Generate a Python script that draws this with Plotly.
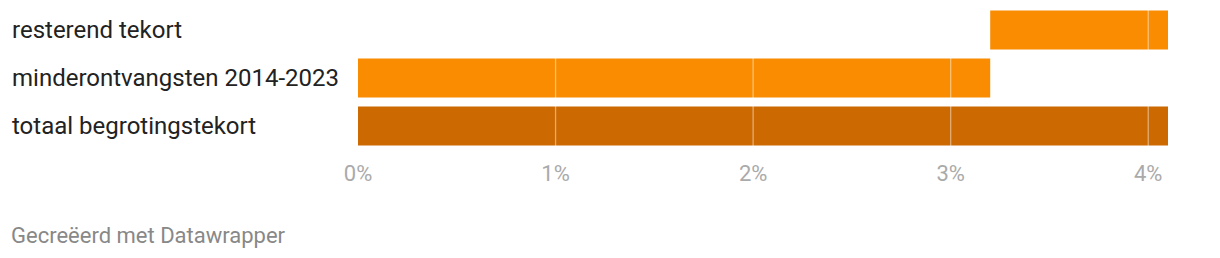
import plotly.graph_objects as go

categories = ["resterend tekort", "minderontvangsten 2014-2023", "totaal begrotingstekort"]
bar_start = [3.2, 0.0, 0.0]
bar_end = [4.1, 3.2, 4.1]
bar_colors = ["#F98C00", "#F98C00", "#CC6900"]
tick_vals = [0, 1, 2, 3, 4]
tick_text = ["0%", "1%", "2%", "3%", "4%"]
footer = "Gecreëerd met Datawrapper"

# bottom-to-top ordering for the y axis
ycats = list(reversed(categories))

fig = go.Figure()
fig.add_trace(go.Bar(
    y=categories,
    x=[e - s for s, e in zip(bar_start, bar_end)],
    base=bar_start,
    orientation="h",
    marker=dict(color=bar_colors, line=dict(width=0)),
    hoverinfo="skip",
))

for t in tick_vals[1:]:
    fig.add_shape(type="line", xref="x", yref="y domain", x0=t, x1=t, y0=0, y1=1,
                  line=dict(color="rgba(255,255,255,0.45)", width=1.3), layer="above")

for c in categories:
    fig.add_annotation(xref="paper", yref="y", x=-(358 - 10) / 810, y=c, text=c,
                       showarrow=False, xanchor="left", yanchor="middle",
                       font=dict(family="Roboto", size=24, color="#222222"))

fig.add_annotation(xref="paper", yref="paper", x=-(358 - 9) / 810, y=-(235 - 150) / 144,
                   text=footer, showarrow=False, xanchor="left", yanchor="middle",
                   font=dict(family="Roboto", size=22, color="#888888"))

fig.update_layout(
    width=1220, height=258,
    margin=dict(l=358, r=52, t=6, b=108),
    paper_bgcolor="white", plot_bgcolor="white",
    showlegend=False, bargap=0.1875,
    xaxis=dict(range=[0, 4.1], tickvals=tick_vals, ticktext=tick_text, showgrid=False,
               zeroline=False, showline=False, ticks="", ticklabelstandoff=8,
               tickfont=dict(family="Roboto", size=22, color="#AAAAAA")),
    yaxis=dict(categoryorder="array", categoryarray=ycats, range=[-0.5, 2.5],
               showticklabels=False, showgrid=False, zeroline=False, ticks=""),
)

fig.write_html("out.html")
